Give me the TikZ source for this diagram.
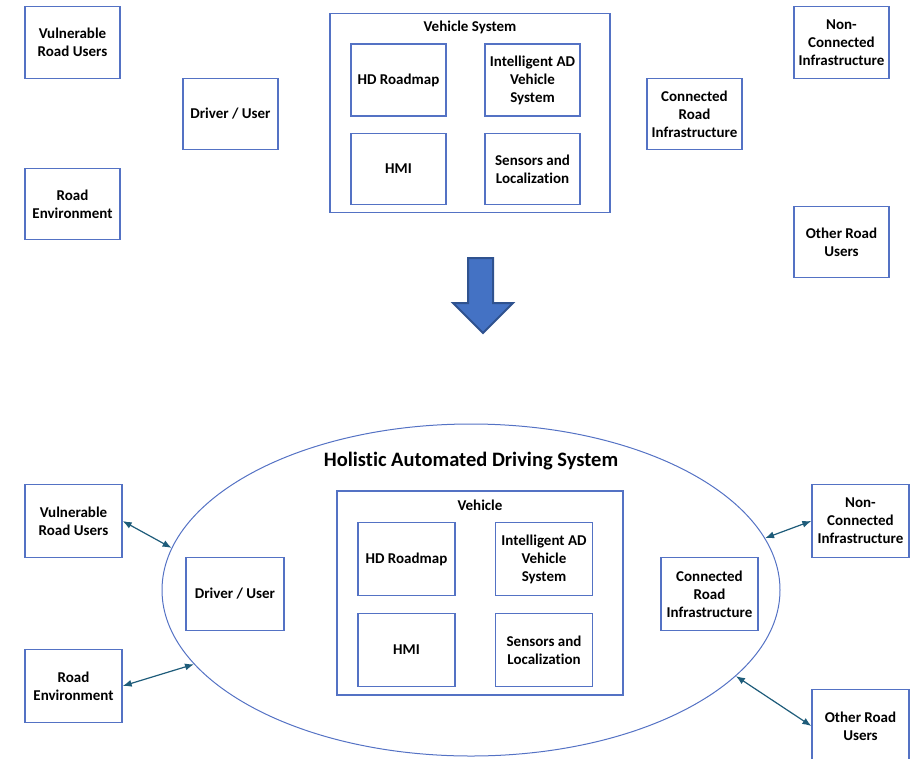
\documentclass[tikz,border=0pt]{standalone}
\usepackage{fontspec}
\setmainfont{Carlito}[Ligatures=NoCommon]
\usetikzlibrary{shapes.geometric,arrows.meta}
\definecolor{boxblue}{RGB}{84,114,196}
\definecolor{arrteal}{RGB}{30,92,122}
\definecolor{bigfill}{RGB}{68,114,196}
\definecolor{bigdraw}{RGB}{47,82,143}
\tikzset{
  bx/.style={draw=boxblue, line width=1.3pt, minimum width=95pt, minimum height=71pt, inner sep=0pt, align=center, font=\fontsize{15}{18}\selectfont\bfseries},
  bxb/.style={bx, minimum width=97pt, minimum height=73pt},
  cont/.style={draw=boxblue, line width=1.3pt, inner sep=0pt},
  lbl/.style={font=\fontsize{15}{18}\selectfont\bfseries, inner sep=0pt},
  conn/.style={draw=arrteal, line width=1.2pt, {Latex[length=9pt,width=7pt]}-{Latex[length=9pt,width=7pt]}}
}
\begin{document}
\begin{tikzpicture}[x=1pt,y=-1pt]
\useasboundingbox (0,0) rectangle (910,758);
% ---------- top ----------
\node[bx, minimum height=72pt] (vru1) at (72.5,42.5) {Vulnerable\\Road Users};
\node[bx] (du1) at (230.5,114) {Driver / User};
\node[bx] (re1) at (72.5,204) {Road\\Environment};
\node[cont, minimum width=280pt, minimum height=199pt] (vs1) at (470,113) {};
\node[lbl] (vs1t) at (470,27) {Vehicle System};
\node[bx, minimum height=72pt] (hd1) at (398.5,80) {HD Roadmap};
\node[bx, minimum height=72pt] (iad1) at (532.5,80) {Intelligent AD\\Vehicle\\System};
\node[bx] (hmi1) at (398.5,169) {HMI};
\node[bx] (sen1) at (532.5,169) {Sensors and\\Localization};
\node[bx] (cri1) at (694.5,114) {Connected\\Road\\Infrastructure};
\node[bx, minimum height=72pt] (nc1) at (841.5,42.5) {Non-\\Connected\\Infrastructure};
\node[bx] (oru1) at (841.5,242) {Other Road\\Users};
% ---------- big arrow ----------
\draw[fill=bigfill, draw=bigdraw, line width=2pt, line join=miter]
  (468,258) -- (493,258) -- (493,303) -- (513,303) -- (483,333) -- (453,303) -- (468,303) -- cycle;
% ---------- bottom ----------
\node[draw=boxblue, line width=1pt, ellipse, minimum width=618pt, minimum height=332pt, inner sep=0pt] (hads) at (471,590) {};
\node[lbl, font=\fontsize{20.5}{24}\selectfont\bfseries] (hadst) at (471,461.5) {Holistic Automated Driving System};
\node[bxb] (vru2) at (73.5,521) {Vulnerable\\Road Users};
\node[bxb] (re2) at (73.5,686) {Road\\Environment};
\node[bxb, minimum width=98pt] (du2) at (235,594) {Driver / User};
\node[cont, minimum width=286pt, minimum height=204pt] (veh) at (480,593) {};
\node[lbl] (veht) at (480,505) {Vehicle};
\node[bxb] (hd2) at (406.5,559) {HD Roadmap};
\node[bxb] (iad2) at (544,559) {Intelligent AD\\Vehicle\\System};
\node[bxb] (hmi2) at (406.5,650) {HMI};
\node[bxb] (sen2) at (544,650) {Sensors and\\Localization};
\node[bxb] (cri2) at (709.5,594) {Connected\\Road\\Infrastructure};
\node[bxb] (nc2) at (860.5,521) {Non-\\Connected\\Infrastructure};
\node[bxb] (oru2) at (860.5,726) {Other Road\\Users};
% connectors
\draw[conn] (vru2.east) -- (hads.172);
\draw[conn] (re2.east) -- (hads.195.5);
\draw[conn] (hads.10.7) -- (nc2.west);
\draw[conn] (hads.342.4) -- (oru2.west);
\end{tikzpicture}
\end{document}
